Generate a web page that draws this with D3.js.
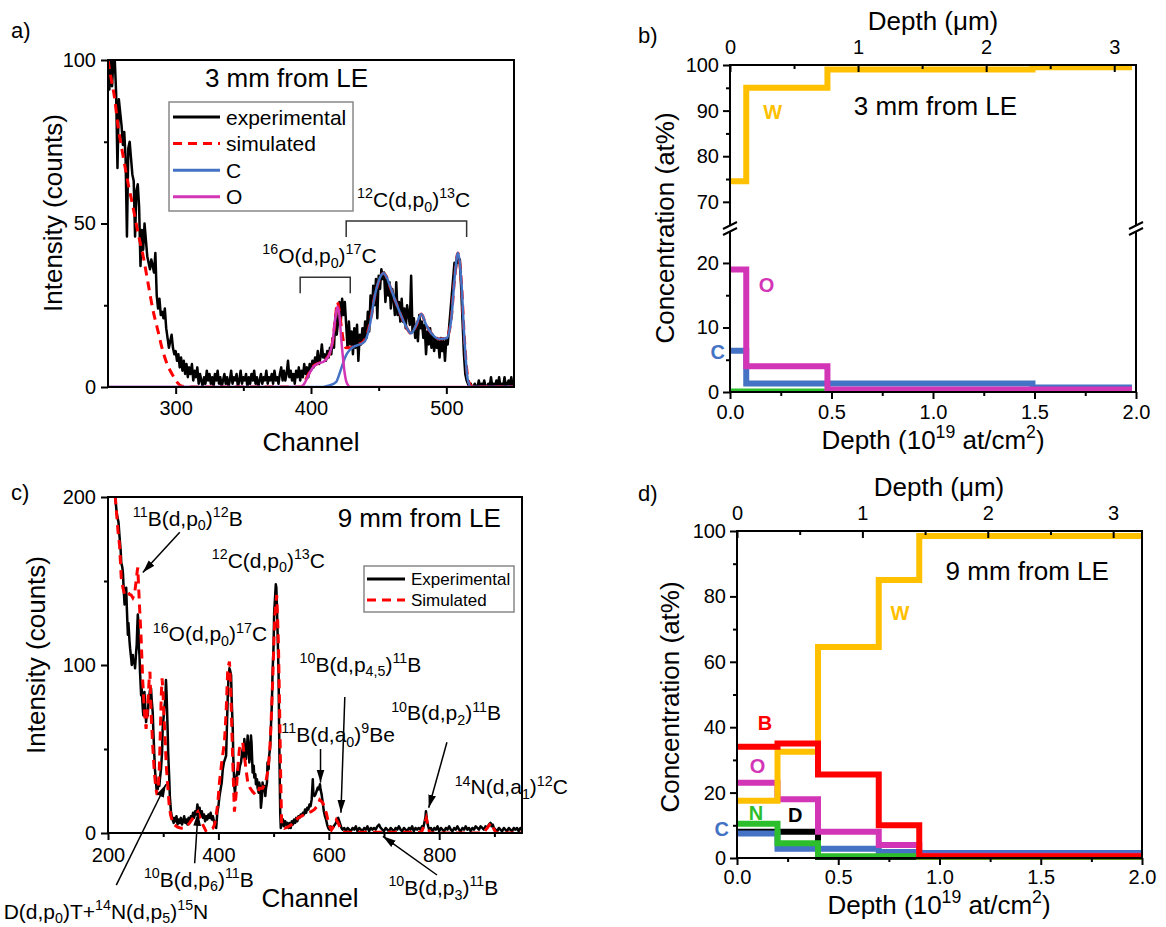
<!DOCTYPE html>
<html>
<head>
<meta charset="utf-8">
<script src="https://cdn.jsdelivr.net/npm/d3@7"></script>
<style>
  body { margin: 0; background: #fff; }
  svg { font-family: "Liberation Sans", Arial, sans-serif; }
</style>
</head>
<body>
<svg id="fig" width="1166" height="927"></svg>
<script>
// ---------- data ----------
// panel a : 3 mm from LE, [channel, counts]
const expA = [[250,94],[251,91],[252,100],[253,92],[254,100],[255,100],[256,90],[257,67],[258,88],[259,84],[260,80],[261,74],[262,78],[263,70],[264,46],[265,73],[266,75],[267,70],[268,65],[269,63],[270,46],[271,60],[272,62],[273,55],[274,37],[275,48],[276,42],[277,50],[278,45],[279,40],[280,38],[281,36],[282,39],[283,37],[284,35],[285,41],[286,28],[287,24],[288,27],[289,22],[290,23],[291,21],[292,24],[293,18],[294,15],[295,12],[296,14],[297,16],[298,12],[299,10],[300,11],[301,8],[302,10],[303,6],[304,9],[305,5],[306,8],[307,4],[308,7],[309,3],[310,6],[311,4],[312,7],[313,2],[314,5],[315,3],[316,6],[317,1],[318,4],[319,2],[320,0],[321,3],[322,1],[323,5],[324,2],[325,4],[326,1],[327,3],[328,0],[329,4],[330,2],[331,5],[332,1],[333,3],[334,0],[335,2],[336,4],[337,1],[338,3],[339,0],[340,2],[341,5],[342,1],[343,3],[344,2],[345,4],[346,0],[347,2],[348,5],[349,1],[350,3],[351,2],[352,4],[353,0],[354,3],[355,1],[356,4],[357,2],[358,5],[359,1],[360,3],[361,0],[362,2],[363,4],[364,1],[365,3],[366,2],[367,5],[368,1],[369,3],[370,2],[371,4],[372,1],[373,5],[374,2],[375,3],[376,1],[377,4],[378,6],[379,2],[380,5],[381,2],[382,4],[383,8],[384,3],[385,5],[386,2],[387,4],[388,1],[389,5],[390,3],[391,6],[392,2],[393,5],[394,3],[395,7],[396,4],[397,6],[398,3],[399,7],[400,5],[401,8],[402,6],[403,9],[404,7],[405,11],[406,7],[407,9],[408,13],[409,9],[410,10],[411,8],[412,11],[413,9],[414,12],[415,10],[416,15],[417,12],[418,22],[419,16],[420,20],[421,26],[422,20],[423,27],[424,22],[425,26],[426,19],[427,12],[428,20],[429,13],[430,17],[431,10],[432,18],[433,12],[434,19],[435,8],[436,16],[437,13],[438,18],[439,14],[440,20],[441,15],[442,23],[443,17],[444,28],[445,22],[446,31],[447,25],[448,33],[449,21],[450,34],[451,30],[452,36],[453,33],[454,35],[455,26],[456,33],[457,28],[458,32],[459,24],[460,30],[461,27],[462,22],[463,32],[464,22],[465,26],[466,20],[467,27],[468,20],[469,24],[470,18],[471,25],[472,22],[473,19],[474,34],[475,17],[476,21],[477,15],[478,19],[479,14],[480,22],[481,18],[482,20],[483,15],[484,19],[485,10],[486,17],[487,13],[488,18],[489,12],[490,16],[491,11],[492,15],[493,12],[494,14],[495,9],[496,15],[497,11],[498,14],[499,8],[500,15],[501,13],[502,18],[503,23],[504,28],[505,33],[506,38],[507,36],[508,40],[509,38],[510,39],[511,30],[512,20],[513,10],[514,4],[515,2],[516,1],[517,0],[518,1],[519,0],[520,0],[521,1],[522,0],[523,0],[524,2],[525,0],[526,1],[527,0],[528,2],[529,0],[530,0],[531,1],[532,0],[533,3],[534,0],[535,1],[536,0],[537,2],[538,0],[539,3],[540,0],[541,1],[542,0],[543,3],[544,0],[545,1],[546,2],[547,0],[548,3],[549,0],[550,1]];
const simA = [[250,100],[252,95],[255,88],[257,81],[261,71],[265,62],[268.5,55],[272,47.5],[276,40],[279.5,32],[283,24],[287,17],[290.5,11],[294,6.7],[298,3.5],[301,1.5],[304,0.3],[310,0],[393,0],[397,3],[401,6],[405,7.2],[409,7.8],[412,9],[414,10.5],[416,14],[418,21],[419.5,26],[421,23],[422.5,18],[424,14],[426,12],[429,12],[432,12.5],[435,13],[439,14],[443,18.5],[447,27.6],[451,33.2],[453.5,34.8],[456,33.5],[458,31.2],[463,25.6],[469,19.5],[474,16.4],[478,19],[481.5,22.3],[485,19],[490,15.9],[495,14.7],[500,14.9],[503.5,20.5],[506,32.7],[508.5,41],[511,32.7],[513.4,14.4],[516,2.5],[518,0.5],[520,0],[550,0]];
const cA = [[250,0],[409,0],[413,0.4],[418.7,1.6],[421,4],[423.6,7.2],[426,9.8],[428.6,11.3],[431,12.2],[434.7,12.8],[439.6,13.9],[443.3,18.5],[447,27.6],[450.7,33.2],[453.6,34.8],[456,33.5],[458.1,31.2],[463,25.6],[469.1,19.5],[474,16.4],[477.8,19],[481.5,22.3],[485.1,19],[490,15.9],[495,14.7],[500,14.9],[503.6,20.5],[506,32.7],[508.5,41],[511,32.7],[513.4,14.4],[515.9,2.1],[518.3,0],[550,0]];
const oA = [[250,0],[392,0],[395,1],[398,3.5],[401.5,6],[405,7.2],[409,7.7],[412,8.8],[413.8,10.3],[416,14],[417.5,19.5],[419.5,24.6],[421,22],[422.4,14.4],[424,7.5],[424.9,4.2],[426,1.8],[427.3,0.6],[429,0],[550,0]];
const legendA = ['experimental', 'simulated', 'C', 'O'];
const bracketsA = [{ t: '^{16}O(d,p_{0})^{17}C', x0: 392, x1: 429, top: 33.6, end: 28.7, tx: 364, ty: 37.9 },
                   { t: '^{12}C(d,p_{0})^{13}C', x0: 426, x1: 515, top: 50.8, end: 45.9, tx: 434, ty: 55 }];

// panel c : 9 mm from LE, [channel, counts]
const expC = [[213,200],[216,190],[219,185],[221,176],[223,168],[224,161],[226,158],[227,155],[228,148],[230,136],[231,140],[233,146],[234,135],[236,118],[237,125],[239,114],[240,110],[242,104],[243,100],[245,106],[246,101],[248,102],[249,98],[251,108],[252,112],[253,122],[254,130],[255,126],[256,110],[257,106],[258,96],[260,82],[261,86],[263,74],[264,70],[266,84],[267,78],[269,66],[270,70],[272,70],[273,76],[275,82],[276,85],[278,86],[279,80],[281,72],[282,62],[284,46],[285,38],[287,30],[288,26],[290,26],[291,30],[293,28],[294,32],[296,38],[298,48],[299,62],[301,70],[302,74],[304,80],[305,91],[306,84],[308,62],[309,48],[311,32],[312,22],[314,13],[316,9],[317,8],[319,6],[320,9],[322,7],[324,10],[326,5],[328,8],[330,6],[332,9],[334,5],[336,7],[338,10],[340,6],[342,8],[344,5],[346,9],[348,7],[350,10],[352,8],[354,12],[356,9],[358,13],[360,11],[362,17],[364,12],[366,15],[368,10],[370,13],[372,9],[374,11],[376,7],[378,10],[380,8],[382,11],[384,9],[386,12],[388,8],[390,10],[392,7],[394,5],[396,3],[398,12],[400,16],[402,22],[404,26],[406,30],[408,38],[410,42],[412,44],[414,46],[415,58],[417,82],[418,90],[420,98],[421,97],[423,94],[424,80],[426,62],[427,45],[429,27],[430,24],[432,32],[434,36],[435,38],[437,35],[439,40],[441,42],[443,48],[444,50],[446,45],[447,56],[449,48],[450,44],[452,52],[453,58],[455,50],[456,42],[458,48],[459,58],[460,54],[462,36],[464,40],[465,33],[467,35],[468,29],[470,32],[471,27],[473,24],[474,30],[476,26],[477,15],[479,22],[480,30],[482,25],[483,28],[485,22],[486,26],[488,30],[489,42],[491,38],[492,46],[494,52],[495,62],[497,78],[498,94],[500,112],[501,131],[503,142],[504,148],[505,146],[506,135],[507,122],[509,95],[510,62],[511,35],[512,12],[513,3],[515,5],[517,8],[519,4],[521,7],[523,5],[525,6],[527,3],[529,6],[531,3],[533,7],[535,5],[537,8],[539,6],[541,9],[543,7],[545,10],[547,9],[549,11],[551,10],[553,12],[555,11],[557,14],[559,12],[561,15],[563,14],[565,17],[567,16],[569,20],[571,32],[572,24],[574,22],[576,23],[578,25],[580,27],[582,26],[584,29],[585,26],[587,23],[589,18],[591,13],[593,10],[595,8],[597,5],[599,3],[601,2],[603,4],[605,3],[607,3],[609,4],[611,5],[613,6],[615,8],[617,9],[619,7],[621,5],[623,3],[625,2],[628,3],[631,1],[634,3],[637,2],[640,1],[643,3],[646,2],[649,4],[652,1],[655,3],[658,2],[661,1],[664,3],[667,2],[670,4],[673,1],[676,3],[679,2],[682,3],[685,2],[688,4],[691,5],[694,3],[697,2],[700,1],[703,3],[706,2],[709,1],[712,3],[715,2],[718,1],[721,3],[724,2],[727,4],[730,2],[733,1],[736,3],[739,2],[742,1],[745,3],[748,2],[751,4],[754,1],[757,3],[760,2],[763,3],[766,2],[769,4],[771,3],[773,6],[775,9],[776,13],[777,10],[778,7],[780,4],[782,2],[785,3],[788,1],[791,3],[794,2],[797,4],[800,1],[803,3],[806,2],[809,1],[812,3],[815,2],[818,4],[821,2],[824,1],[827,3],[830,2],[833,4],[836,2],[839,1],[842,3],[845,2],[848,4],[851,2],[854,3],[857,1],[860,3],[863,2],[866,4],[869,3],[872,2],[875,4],[878,3],[881,2],[884,4],[887,3],[890,5],[893,6],[895,4],[897,5],[899,3],[902,2],[905,1],[908,3],[911,2],[914,1],[917,3],[920,2],[923,1],[926,3],[929,2],[932,1],[935,3],[938,2],[941,3],[944,1],[947,3],[950,2]];
const simC = [[213,201],[218,180],[221,171],[224,152],[227,146],[230,142],[233,143],[236,143.6],[239,142],[242,141.7],[245,140],[248,142],[251,150],[253,156],[254,158],[255,150],[257,135.7],[260,116],[263,90],[266,72],[269,62],[272,76],[275,94],[276,96],[278,72],[281,52],[284,36],[287,26],[289,22.6],[291,28],[293,38.5],[295,62],[296.5,82],[298,92],[299.5,85],[301,72],[304,52],[306,38],[308.6,26.6],[311,16],[313.4,10.7],[317,6.5],[320.6,4.8],[326,3.5],[332.7,2.8],[337,3],[341.7,3.8],[348,6],[353.8,8.8],[358,11],[362.8,12.7],[366,10],[369,7],[372,4.8],[378,0.8],[384,1.5],[390,2.8],[393,5],[396,10.7],[399,18],[402,30.6],[406,42],[411,54.4],[414,72],[417,98],[420,102],[421.5,92],[423,78],[426,42.5],[429,12.7],[432,22.6],[435,38],[438,50],[441,53],[444,54],[447,46],[450,38],[453,30.6],[457,27],[462,24.6],[468,22.6],[471,24],[474,26.6],[480,26.6],[486,30.6],[489,36],[492.5,46.4],[495,62],[498.5,92],[501,118],[502.8,131.8],[505.6,141.7],[507,130],[508.8,112],[510,90],[511.5,62],[513,30],[514.6,4.8],[519.7,2.8],[525,3.5],[531.7,4.8],[537,6.5],[543.8,8.8],[550,10],[556,11],[562,12],[568,12.7],[574,14],[580,16.5],[583.6,19.7],[586,19],[589.6,17.7],[592,15],[595.7,11.7],[600,5],[604.7,1.8],[609,4],[613.7,7.8],[617,6],[619.8,3.8],[622,2],[625.8,0.5],[700,0.5],[768,0.5],[772,4],[776.6,8.8],[780,4],[782.6,0],[880,0],[887,3],[894,6],[898,3],[903,0],[950,0]];
const legendC = ['Experimental', 'Simulated'];
const notesC = [
  { t: '^{11}B(d,p_{0})^{12}B', at: [245, 183], tail: [330, 179], head: [263, 155] },
  { t: '^{12}C(d,p_{0})^{13}C', at: [388, 158] },
  { t: '^{16}O(d,p_{0})^{17}C', at: [281, 114] },
  { t: '^{10}B(d,p_{4,5})^{11}B', at: [547, 96], tail: [629, 81], head: [622, 12] },
  { t: '^{10}B(d,p_{2})^{11}B', at: [713, 67], tail: [814, 54], head: [781, 15] },
  { t: '^{11}B(d,a_{0})^{9}Be', at: [514, 54], tail: [585, 50], head: [585, 30] },
  { t: '^{14}N(d,a_{1})^{12}C', at: [828, 23] },
  { t: '^{10}B(d,p_{6})^{11}B', at: [265, -32], tail: [357, -18], head: [363, 12] },
  { t: 'D(d,p_{0})T+^{14}N(d,p_{5})^{15}N', at: [11, -51], tail: [215, -31], head: [305, 29] },
  { t: '^{10}B(d,p_{3})^{11}B', at: [708, -37], tail: [796, -25], head: [698, -2] }
];

// panel b : depth profile 3 mm, x in 1e19 at/cm2
const bSteps = [
  { el: 'N', xs: [0, 0.48], v: [0.3, 0.3] },
  { el: 'C', xs: [0, 0.08, 1.49, 1.98], v: [6.4, 1.3, 0.7, 0.7] },
  { el: 'O', xs: [0, 0.08, 0.48, 1.98], v: [19, 4, 0.4, 0.4] },
  { el: 'W', xs: [0, 0.08, 0.48, 1.49, 1.98], v: [74.5, 95, 99, 99.5, 99.5] }
];
const bLabels = [{ el: 'W', at: [0.21, 89.8] }, { el: 'O', at: [0.18, 16.6] }, { el: 'C', at: [-0.06, 6.25] }];

// panel d : depth profile 9 mm
const dSteps = [
  { el: 'D', xs: [0, 0.4, 2.0], v: [8, 0.3, 0.3] },
  { el: 'C', xs: [0, 0.2, 0.7, 0.9, 2.0], v: [7.5, 2.8, 1.8, 1.5, 1.5] },
  { el: 'N', xs: [0, 0.2, 0.4, 0.9, 2.0], v: [10.5, 4.5, 0.5, 0.3, 0.3] },
  { el: 'O', xs: [0, 0.2, 0.4, 0.7, 0.9, 2.0], v: [23, 18, 8, 4, 0.7, 0.7] },
  { el: 'W', xs: [0, 0.2, 0.4, 0.7, 0.9, 2.0], v: [17.5, 32.5, 64.5, 85, 98.5, 98.5] },
  { el: 'B', xs: [0, 0.2, 0.4, 0.7, 0.9, 2.0], v: [34, 35, 25.5, 10, 0.5, 0.5] }
];
const dLabels = [{ el: 'B', at: [0.138, 41.2] }, { el: 'O', at: [0.101, 28.1] }, { el: 'N', at: [0.094, 13.7] },
                 { el: 'D', at: [0.288, 13.1] }, { el: 'C', at: [-0.076, 8.8] }, { el: 'W', at: [0.805, 74.8] }];

const colors = { W: '#FFC000', B: '#FF0000', O: '#D335B7', C: '#4472C4', N: '#2DBE2D', D: '#000000' };

// ---------- helpers ----------
const svg = d3.select('#fig');
const defs = svg.append('defs');
defs.append('marker').attr('id', 'arr').attr('viewBox', '0 0 10 10')
  .attr('refX', 10).attr('refY', 5).attr('markerWidth', 13).attr('markerHeight', 13)
  .attr('markerUnits', 'userSpaceOnUse').attr('orient', 'auto')
  .append('path').attr('d', 'M0,2 L10,5 L0,8 Z').attr('fill', '#000');

// text with ^{sup} and _{sub}
function rich(g, str, x, y, size, anchor) {
  const t = g.append('text').attr('x', x).attr('y', y).attr('font-size', size)
    .attr('text-anchor', anchor || 'start').attr('fill', '#000');
  let shift = 0, m;
  const re = /\^\{([^}]*)\}|_\{([^}]*)\}|([^^_]+)/g;
  while ((m = re.exec(str)) !== null) {
    let off = 0, s = m[3], small = false;
    if (m[1] !== undefined) { off = -0.42 * size; s = m[1]; small = true; }
    else if (m[2] !== undefined) { off = 0.22 * size; s = m[2]; small = true; }
    t.append('tspan').attr('dy', off - shift).attr('font-size', small ? size * 0.68 : size).text(s);
    shift = off;
  }
  return t;
}

function axis(g, ax, fs) {
  g.call(ax);
  g.select('.domain').remove();
  g.attr('font-family', null).attr('font-size', fs);
  g.selectAll('line').attr('stroke-width', 2);
  return g;
}

function clip(id, x0, y0, x1, y1) {
  defs.append('clipPath').attr('id', id).append('rect')
    .attr('x', x0).attr('y', y0).attr('width', x1 - x0).attr('height', y1 - y0);
}

function yTitle(str, x, y) {
  svg.append('text').attr('transform', `translate(${x},${y}) rotate(-90)`)
    .attr('text-anchor', 'middle').attr('dominant-baseline', 'central')
    .attr('font-size', 26).text(str);
}

// ---------- panel a ----------
const ax = d3.scaleLinear().domain([250, 550]).range([108, 514]);
const ay = d3.scaleLinear().domain([0, 100]).range([387, 60]);
clip('clipA', 108, 60, 514, 387);
{
  const g = svg.append('g');
  const line = d3.line().x(d => ax(d[0])).y(d => ay(d[1]));
  const smooth = d3.line().x(d => ax(d[0])).y(d => ay(d[1])).curve(d3.curveMonotoneX);
  const pg = g.append('g').attr('clip-path', 'url(#clipA)');
  pg.append('path').datum(expA).attr('d', line).attr('fill', 'none').attr('stroke', '#000').attr('stroke-width', 2.5).attr('stroke-linejoin', 'round');
  pg.append('path').datum(simA).attr('d', smooth).attr('fill', 'none').attr('stroke', '#FF0000').attr('stroke-width', 3).attr('stroke-dasharray', '9,6');
  pg.append('path').datum(cA).attr('d', smooth).attr('fill', 'none').attr('stroke', colors.C).attr('stroke-width', 2.5);
  pg.append('path').datum(oA).attr('d', smooth).attr('fill', 'none').attr('stroke', colors.O).attr('stroke-width', 2.5);

  g.append('rect').attr('x', 108).attr('y', 60).attr('width', 406).attr('height', 327)
    .attr('fill', 'none').attr('stroke', '#000').attr('stroke-width', 2);
  axis(g.append('g').attr('transform', 'translate(0,387)'), d3.axisBottom(ax).tickValues([300, 400, 500]).tickSize(7).tickPadding(7), 20);
  axis(g.append('g').attr('transform', 'translate(0,387)'), d3.axisBottom(ax).tickValues([350, 450]).tickSize(4).tickFormat(''), 20);
  axis(g.append('g').attr('transform', 'translate(108,0)'), d3.axisLeft(ay).tickValues([0, 50, 100]).tickSize(7).tickPadding(5), 20);
  axis(g.append('g').attr('transform', 'translate(108,0)'), d3.axisLeft(ay).tickValues([25, 75]).tickSize(4).tickFormat(''), 20);

  // legend
  g.append('rect').attr('x', 169).attr('y', 102).attr('width', 184).attr('height', 109)
    .attr('fill', '#fff').attr('stroke', '#888').attr('stroke-width', 1.5);
  const lstyle = [['#000', null], ['#FF0000', '9,6'], [colors.C, null], [colors.O, null]];
  legendA.forEach((name, i) => {
    const y = 117 + i * 26.6;
    g.append('line').attr('x1', 173).attr('x2', 220).attr('y1', y).attr('y2', y)
      .attr('stroke', lstyle[i][0]).attr('stroke-width', 3).attr('stroke-dasharray', lstyle[i][1]);
    g.append('text').attr('x', 226).attr('y', y).attr('dominant-baseline', 'central').attr('font-size', 21).text(name);
  });

  // brackets
  bracketsA.forEach(b => {
    g.append('path').attr('d', `M${ax(b.x0)},${ay(b.end)} V${ay(b.top)} H${ax(b.x1)} V${ay(b.end)}`)
      .attr('fill', 'none').attr('stroke', '#333').attr('stroke-width', 1.5);
    rich(g, b.t, ax(b.tx), ay(b.ty), 21);
  });

  g.append('text').attr('x', ax(321.6)).attr('y', ay(91.7)).attr('font-size', 26).text('3 mm from LE');
  g.append('text').attr('x', 11).attr('y', 38).attr('font-size', 22).text('a)');
  g.append('text').attr('x', 311).attr('y', 451).attr('text-anchor', 'middle').attr('font-size', 26).text('Channel');
  yTitle('Intensity (counts)', 53, 213);
}

// ---------- panel c ----------
const cx = d3.scaleLinear().domain([200, 950]).range([108, 522]);
const cy = d3.scaleLinear().domain([0, 200]).range([833, 497]);
clip('clipC', 108, 497, 522, 833);
{
  const g = svg.append('g');
  const line = d3.line().x(d => cx(d[0])).y(d => cy(d[1]));
  const pg = g.append('g').attr('clip-path', 'url(#clipC)');
  pg.append('path').datum(expC).attr('d', line).attr('fill', 'none').attr('stroke', '#000').attr('stroke-width', 2.5).attr('stroke-linejoin', 'round');
  pg.append('path').datum(simC).attr('d', line).attr('fill', 'none').attr('stroke', '#FF0000').attr('stroke-width', 3).attr('stroke-dasharray', '9,6');

  g.append('rect').attr('x', 108).attr('y', 497).attr('width', 414).attr('height', 336)
    .attr('fill', 'none').attr('stroke', '#000').attr('stroke-width', 2);
  axis(g.append('g').attr('transform', 'translate(0,833)'), d3.axisBottom(cx).tickValues([200, 400, 600, 800]).tickSize(7).tickPadding(8), 20);
  axis(g.append('g').attr('transform', 'translate(0,833)'), d3.axisBottom(cx).tickValues([300, 500, 700, 900]).tickSize(4).tickFormat(''), 20);
  axis(g.append('g').attr('transform', 'translate(108,0)'), d3.axisLeft(cy).tickValues([0, 100, 200]).tickSize(7).tickPadding(5), 20);
  axis(g.append('g').attr('transform', 'translate(108,0)'), d3.axisLeft(cy).tickValues([50, 150]).tickSize(4).tickFormat(''), 20);

  // legend
  g.append('rect').attr('x', 364).attr('y', 566).attr('width', 150).attr('height', 46)
    .attr('fill', '#fff').attr('stroke', '#888').attr('stroke-width', 1.5);
  legendC.forEach((name, i) => {
    const y = 579 + i * 21;
    g.append('line').attr('x1', 367).attr('x2', 405).attr('y1', y).attr('y2', y)
      .attr('stroke', i ? '#FF0000' : '#000').attr('stroke-width', 3).attr('stroke-dasharray', i ? '9,6' : null);
    g.append('text').attr('x', 411).attr('y', y).attr('dominant-baseline', 'central').attr('font-size', 17).text(name);
  });

  notesC.forEach(n => {
    rich(g, n.t, cx(n.at[0]), cy(n.at[1]), 21);
    if (n.tail) {
      g.append('line').attr('x1', cx(n.tail[0])).attr('y1', cy(n.tail[1]))
        .attr('x2', cx(n.head[0])).attr('y2', cy(n.head[1]))
        .attr('stroke', '#000').attr('stroke-width', 1.5).attr('marker-end', 'url(#arr)');
    }
  });

  g.append('text').attr('x', cx(616)).attr('y', cy(182)).attr('font-size', 26).text('9 mm from LE');
  g.append('text').attr('x', 11).attr('y', 500).attr('font-size', 22).text('c)');
  g.append('text').attr('x', 310).attr('y', 907).attr('text-anchor', 'middle').attr('font-size', 26).text('Channel');
  yTitle('Intensity (counts)', 36, 655);
}

// ---------- panel b ----------
const bx = d3.scaleLinear().domain([0, 2]).range([730, 1136]);
const bxTop = d3.scaleLinear().domain([0, 3.17]).range([730, 1136]);
const byU = d3.scaleLinear().domain([64.7, 100]).range([226, 65]);
const byL = d3.scaleLinear().domain([0, 24.8]).range([392, 232]);
clip('clipBU', 730, 60, 1136, 226);
clip('clipBL', 730, 232, 1136, 396);
{
  const g = svg.append('g');
  bSteps.forEach(s => {
    const upper = s.el === 'W';
    const ys = upper ? byU : byL;
    const line = d3.line().x(d => bx(d[0])).y(d => ys(d[1])).curve(d3.curveStepAfter);
    g.append('path').datum(s.xs.map((x, i) => [x, s.v[i]]))
      .attr('clip-path', upper ? 'url(#clipBU)' : 'url(#clipBL)')
      .attr('d', line).attr('fill', 'none').attr('stroke', colors[s.el])
      .attr('stroke-width', s.el === 'N' ? 3 : 6);
  });

  // frame with axis break
  const fr = g.append('g').attr('stroke', '#000').attr('stroke-width', 2);
  fr.append('line').attr('x1', 730).attr('x2', 1136).attr('y1', 65).attr('y2', 65);
  fr.append('line').attr('x1', 730).attr('x2', 1136).attr('y1', 392).attr('y2', 392);
  [730, 1136].forEach(x => {
    fr.append('line').attr('x1', x).attr('x2', x).attr('y1', 64).attr('y2', 226);
    fr.append('line').attr('x1', x).attr('x2', x).attr('y1', 232).attr('y2', 393);
    fr.append('line').attr('x1', x - 7).attr('x2', x + 7).attr('y1', 229).attr('y2', 222);
    fr.append('line').attr('x1', x - 7).attr('x2', x + 7).attr('y1', 235).attr('y2', 228);
  });

  axis(g.append('g').attr('transform', 'translate(0,392)'), d3.axisBottom(bx).tickValues([0, 0.5, 1, 1.5, 2]).tickFormat(d3.format('.1f')).tickSize(7).tickPadding(6), 20);
  axis(g.append('g').attr('transform', 'translate(0,392)'), d3.axisBottom(bx).tickValues([0.25, 0.75, 1.25, 1.75]).tickSize(4).tickFormat(''), 20);
  axis(g.append('g').attr('transform', 'translate(0,65)'), d3.axisTop(bxTop).tickValues([0, 1, 2, 3]).tickFormat(d3.format('d')).tickSize(-7).tickPadding(11), 20);
  axis(g.append('g').attr('transform', 'translate(0,65)'), d3.axisTop(bxTop).tickValues([0.5, 1.5, 2.5]).tickSize(-4).tickFormat(''), 20);
  axis(g.append('g').attr('transform', 'translate(730,0)'), d3.axisLeft(byU).tickValues([70, 80, 90, 100]).tickSize(7).tickPadding(4), 20);
  axis(g.append('g').attr('transform', 'translate(730,0)'), d3.axisLeft(byU).tickValues([75, 85, 95]).tickSize(4).tickFormat(''), 20);
  axis(g.append('g').attr('transform', 'translate(730,0)'), d3.axisLeft(byL).tickValues([0, 10, 20]).tickSize(7).tickPadding(4), 20);
  axis(g.append('g').attr('transform', 'translate(730,0)'), d3.axisLeft(byL).tickValues([5, 15]).tickSize(4).tickFormat(''), 20);

  bLabels.forEach(l => {
    const ys = l.el === 'W' ? byU : byL;
    g.append('text').attr('x', bx(l.at[0])).attr('y', ys(l.at[1])).attr('text-anchor', 'middle')
      .attr('dominant-baseline', 'central').attr('font-size', 20).attr('font-weight', 'bold')
      .attr('fill', colors[l.el]).text(l.el);
  });

  g.append('text').attr('x', bx(0.61)).attr('y', byU(89.05)).attr('font-size', 26).text('3 mm from LE');
  g.append('text').attr('x', 638).attr('y', 43).attr('font-size', 22).text('b)');
  g.append('text').attr('x', 933).attr('y', 30).attr('text-anchor', 'middle').attr('font-size', 26).text('Depth (\u03bcm)');
  rich(g, 'Depth (10^{19} at/cm^{2})', 933, 449, 26, 'middle');
  yTitle('Concentration (at%)', 665, 228);
}

// ---------- panel d ----------
const dx = d3.scaleLinear().domain([0, 2]).range([737, 1142]);
const dxTop = d3.scaleLinear().domain([0, 3.23]).range([737, 1142]);
const dy = d3.scaleLinear().domain([0, 100]).range([858, 531]);
clip('clipD', 737, 527, 1142, 862);
{
  const g = svg.append('g');
  const line = d3.line().x(d => dx(d[0])).y(d => dy(d[1])).curve(d3.curveStepAfter);
  dSteps.forEach(s => {
    g.append('path').datum(s.xs.map((x, i) => [x, s.v[i]])).attr('clip-path', 'url(#clipD)')
      .attr('d', line).attr('fill', 'none').attr('stroke', colors[s.el]).attr('stroke-width', 6);
  });

  g.append('rect').attr('x', 737).attr('y', 531).attr('width', 405).attr('height', 327)
    .attr('fill', 'none').attr('stroke', '#000').attr('stroke-width', 2);
  axis(g.append('g').attr('transform', 'translate(0,858)'), d3.axisBottom(dx).tickValues([0, 0.5, 1, 1.5, 2]).tickFormat(d3.format('.1f')).tickSize(7).tickPadding(5), 20);
  axis(g.append('g').attr('transform', 'translate(0,858)'), d3.axisBottom(dx).tickValues([0.25, 0.75, 1.25, 1.75]).tickSize(4).tickFormat(''), 20);
  axis(g.append('g').attr('transform', 'translate(0,531)'), d3.axisTop(dxTop).tickValues([0, 1, 2, 3]).tickFormat(d3.format('d')).tickSize(-7).tickPadding(11), 20);
  axis(g.append('g').attr('transform', 'translate(0,531)'), d3.axisTop(dxTop).tickValues([0.5, 1.5, 2.5]).tickSize(-4).tickFormat(''), 20);
  axis(g.append('g').attr('transform', 'translate(737,0)'), d3.axisLeft(dy).tickValues([0, 20, 40, 60, 80, 100]).tickSize(7).tickPadding(4), 20);
  axis(g.append('g').attr('transform', 'translate(737,0)'), d3.axisLeft(dy).tickValues([10, 30, 50, 70, 90]).tickSize(4).tickFormat(''), 20);

  dLabels.forEach(l => {
    g.append('text').attr('x', dx(l.at[0])).attr('y', dy(l.at[1])).attr('text-anchor', 'middle')
      .attr('dominant-baseline', 'central').attr('font-size', 20).attr('font-weight', 'bold')
      .attr('fill', colors[l.el]).text(l.el);
  });

  g.append('text').attr('x', dx(1.03)).attr('y', dy(85)).attr('font-size', 26).text('9 mm from LE');
  g.append('text').attr('x', 638).attr('y', 501).attr('font-size', 22).text('d)');
  g.append('text').attr('x', 939).attr('y', 496).attr('text-anchor', 'middle').attr('font-size', 26).text('Depth (\u03bcm)');
  rich(g, 'Depth (10^{19} at/cm^{2})', 939, 914, 26, 'middle');
  yTitle('Concentration (at%)', 670, 697);
}
</script>
</body>
</html>
